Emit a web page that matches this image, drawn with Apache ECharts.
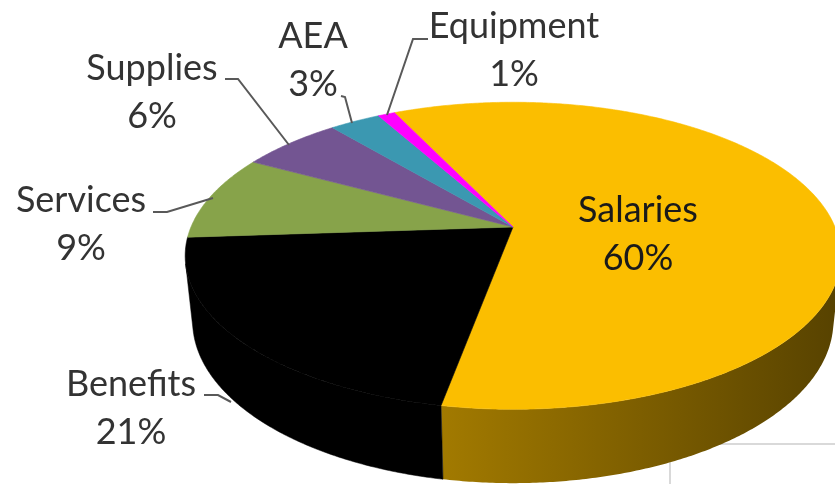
<!DOCTYPE html>
<html><head><meta charset="utf-8">
<script src="https://cdn.jsdelivr.net/npm/echarts@6/dist/echarts.min.js"></script>
<style>html,body{margin:0;padding:0;background:#fff}#c{width:835px;height:484px}</style>
</head><body><div id="c"></div>
<script>
// ---- data ----
const categories = ['Salaries', 'Benefits', 'Services', 'Supplies', 'AEA', 'Equipment'];
const values = [60, 21, 9, 6, 3, 1];

// ---- styles ----
const topColors = ['#FBBE00', '#000000', '#87A34A', '#735592', '#3B98B1', '#FF00FF'];
const wallColors = [
  {type: 'linear', x: 0, y: 0, x2: 1, y2: 0, colorStops: [
    {offset: 0, color: '#a27a00'}, {offset: 0.5, color: '#7d5e00'}, {offset: 1, color: '#574200'}]},
  '#000000', '#5c7030', '#4e3a66', '#28697a', '#b000b0'
];
// label layout (centre of two-line label) and leader-line paths
const labelPos = [[638, 234], [131, 408], [81, 224], [152, 92], [313, 60], [514, 50]];
const labelColor = ['#1a1a1a', '#333', '#333', '#333', '#333', '#333'];
const leaders = [
  null,
  [[204, 395], [218, 395], [231, 402]],
  [[153, 212], [167, 212], [213, 198]],
  [[225, 79], [238, 79], [289, 145]],
  [[341, 96], [345, 97], [352, 123]],
  [[428, 39], [413, 39], [387, 115]]
];

// ---- 3D view parameters ----
const VIEW = {cx: 513, cy: 227, f: 322, sinA: 0.46, k: 0.211, thick: 0.23, startDeg: 334.5};
VIEW.cosA = Math.sqrt(1 - VIEW.sinA * VIEW.sinA);

function proj(deg, r, y) {
  const t = deg * Math.PI / 180;
  const X = r * Math.sin(t), Z = r * Math.cos(t);
  const u = Z * VIEW.sinA + y * VIEW.cosA;
  const d = Z * VIEW.cosA - y * VIEW.sinA;
  const s = 1 / (1 + VIEW.k * d);
  return [VIEW.cx + VIEW.f * X * s, VIEW.cy - VIEW.f * u * s];
}
// visible wall range (normal facing camera)
const camZ = -VIEW.cosA / VIEW.k;
const visHalf = Math.acos(1 / camZ) * 180 / Math.PI; // > 90
const wallFrom = visHalf, wallTo = 360 - visHalf;

const total = values.reduce((a, b) => a + b, 0);
const starts = [];
let acc = VIEW.startDeg;
values.forEach(v => { starts.push(acc); acc += v / total * 360; });

function arcPts(a, b, r, y) {
  const pts = [];
  const n = Math.max(2, Math.ceil(Math.abs(b - a) / 0.5));
  for (let i = 0; i <= n; i++) pts.push(proj(a + (b - a) * i / n, r, y));
  return pts;
}

function renderItem(params, api) {
  const i = params.dataIndex;
  const v = api.value(0);
  const a = starts[i], b = a + v / total * 360;
  const children = [];
  // wall
  for (const shift of [0, 360, -360]) {
    const lo = Math.max(a, wallFrom + shift), hi = Math.min(b, wallTo + shift);
    if (hi > lo) {
      const top = arcPts(lo, hi, 1, 0);
      const bot = arcPts(lo, hi, 1, -VIEW.thick).reverse();
      children.push({type: 'polygon', z2: 1, shape: {points: top.concat(bot)},
        style: {fill: wallColors[i], stroke: typeof wallColors[i] === 'string' ? wallColors[i] : null, lineWidth: 0.5}});
    }
  }
  // top face
  const pts = [proj(0, 0, 0)].concat(arcPts(a, b, 1, 0));
  children.push({type: 'polygon', z2: 2, shape: {points: pts},
    style: {fill: topColors[i], stroke: topColors[i], lineWidth: 0.6}});
  // leader
  if (leaders[i]) {
    children.push({type: 'polyline', z2: 9, shape: {points: leaders[i]},
      style: {stroke: '#595959', lineWidth: 2, fill: null}});
  }
  // label
  const pct = Math.round(v / total * 100) + '%';
  children.push({type: 'text', z2: 10, x: labelPos[i][0], y: labelPos[i][1],
    style: {text: categories[i] + '\n' + pct, fill: labelColor[i], font: '36px Lato',
      lineHeight: 48, align: 'center', verticalAlign: 'middle'}});
  return {type: 'group', children};
}

const chart = echarts.init(document.getElementById('c'), null, {renderer: 'canvas'});
chart.setOption({
  animation: false,
  backgroundColor: '#ffffff',
  graphic: [{type: 'rect', z: -1, shape: {x: 670, y: 444, width: 220, height: 100},
    style: {fill: null, stroke: '#d9d9d9', lineWidth: 2}}],
  series: [{
    type: 'custom',
    coordinateSystem: 'none',
    silent: true,
    renderItem: renderItem,
    data: values.map((v, i) => ({name: categories[i], value: [v]}))
  }]
});
</script></body></html>
